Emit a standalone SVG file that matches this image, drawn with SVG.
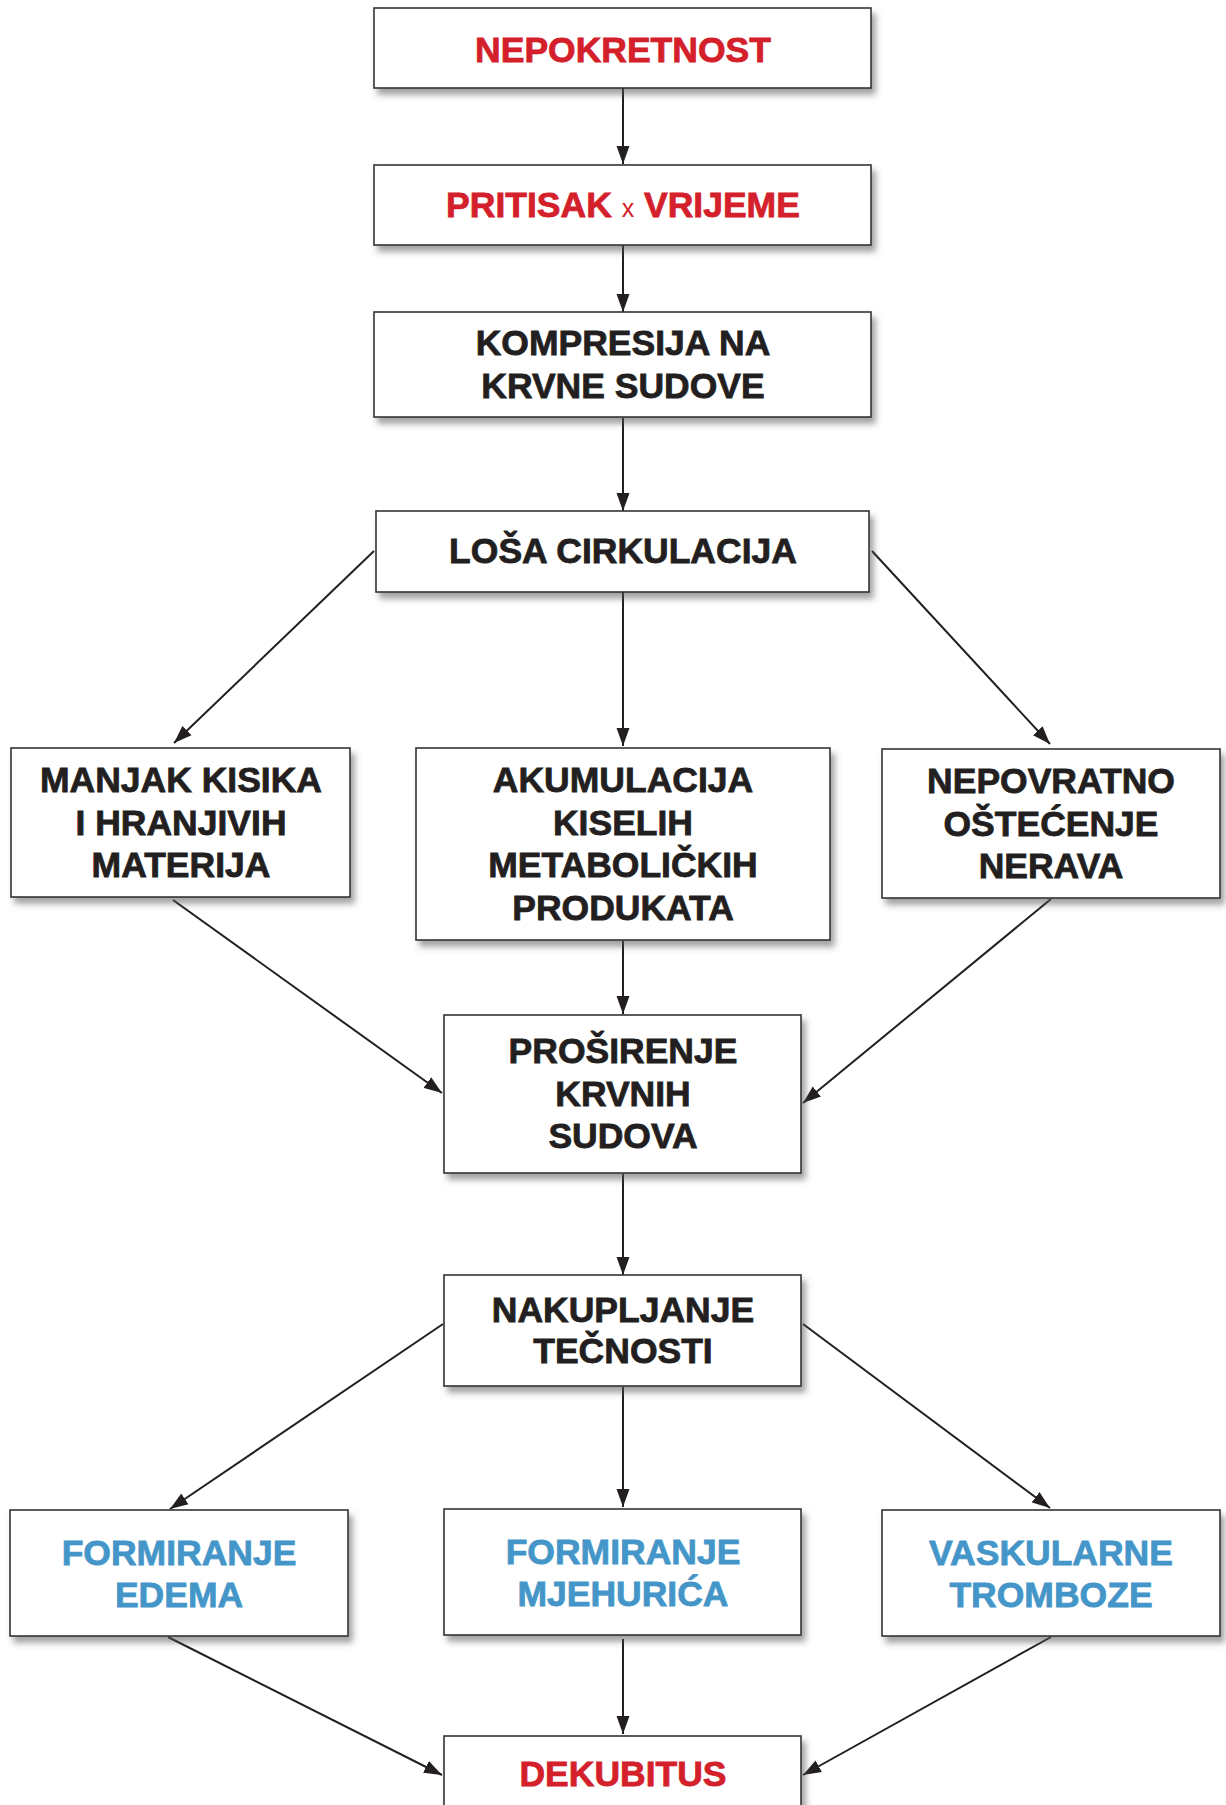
<svg xmlns="http://www.w3.org/2000/svg" width="1226" height="1805" viewBox="0 0 1226 1805">
<defs>
<filter id="sh" x="-10%" y="-10%" width="130%" height="140%">
<feDropShadow dx="4" dy="6" stdDeviation="3" flood-color="#555" flood-opacity="0.55"/>
</filter>
<marker id="ah" markerUnits="userSpaceOnUse" markerWidth="18" markerHeight="14" refX="18" refY="7" orient="auto">
<path d="M0,0.5 L18,7 L0,13.5 z" fill="#231f20"/>
</marker>
</defs>
<style>
.box{fill:#fff;stroke:#333;stroke-width:1.6;filter:url(#sh)}
.t{font-family:"Liberation Sans",Arial,sans-serif;font-weight:bold;font-size:35.5px;text-anchor:middle;fill:#231f20;stroke:#231f20;stroke-width:0.8}
.red{fill:#d4202a;stroke:#d4202a}
.blue{fill:#4596c8;stroke:#4596c8}
.x{font-weight:normal;font-size:25px;stroke-width:0}
.c line{stroke:#231f20;stroke-width:2;marker-end:url(#ah)}
</style>
<rect width="1226" height="1805" fill="#fff"/>
<g class="c" id="connectors">
<line x1="623" y1="88" x2="623" y2="164"/>
<line x1="623" y1="245" x2="623" y2="312"/>
<line x1="623" y1="418" x2="623" y2="511"/>
<line x1="374" y1="551" x2="174" y2="743"/>
<line x1="623" y1="592" x2="623" y2="746"/>
<line x1="872" y1="551" x2="1050" y2="744"/>
<line x1="173" y1="900" x2="442" y2="1093"/>
<line x1="623" y1="941" x2="623" y2="1014"/>
<line x1="1051" y1="899" x2="803" y2="1103"/>
<line x1="623" y1="1174" x2="623" y2="1275"/>
<line x1="443" y1="1324" x2="170" y2="1509"/>
<line x1="623" y1="1387" x2="623" y2="1507"/>
<line x1="803" y1="1324" x2="1050" y2="1508"/>
<line x1="168" y1="1637" x2="442" y2="1775"/>
<line x1="623" y1="1639" x2="623" y2="1734"/>
<line x1="1051" y1="1637" x2="803" y2="1775"/>
</g>
<g id="n1"><rect class="box" x="374" y="8" width="497" height="80"/><text class="t red" x="623" y="62">NEPOKRETNOST</text></g>
<g id="n2"><rect class="box" x="374" y="165" width="497" height="80"/><text class="t red" x="623" y="217">PRITISAK <tspan class="x">x</tspan> VRIJEME</text></g>
<g id="n3"><rect class="box" x="374" y="312" width="497" height="105"/><text class="t" x="623" y="355">KOMPRESIJA NA</text><text class="t" x="623" y="398">KRVNE SUDOVE</text></g>
<g id="n4"><rect class="box" x="376" y="511" width="493" height="81"/><text class="t" x="623" y="563">LOŠA CIRKULACIJA</text></g>
<g id="n5"><rect class="box" x="11" y="748" width="339" height="149"/><text class="t" x="181" y="792">MANJAK KISIKA</text><text class="t" x="181" y="835">I HRANJIVIH</text><text class="t" x="181" y="877">MATERIJA</text></g>
<g id="n6"><rect class="box" x="416" y="748" width="414" height="192"/><text class="t" x="623" y="792">AKUMULACIJA</text><text class="t" x="623" y="835">KISELIH</text><text class="t" x="623" y="877">METABOLIČKIH</text><text class="t" x="623" y="920">PRODUKATA</text></g>
<g id="n7"><rect class="box" x="882" y="749" width="338" height="149"/><text class="t" x="1051" y="793">NEPOVRATNO</text><text class="t" x="1051" y="836">OŠTEĆENJE</text><text class="t" x="1051" y="878">NERAVA</text></g>
<g id="n8"><rect class="box" x="444" y="1015" width="357" height="158"/><text class="t" x="623" y="1063">PROŠIRENJE</text><text class="t" x="623" y="1106">KRVNIH</text><text class="t" x="623" y="1148">SUDOVA</text></g>
<g id="n9"><rect class="box" x="444" y="1275" width="357" height="111"/><text class="t" x="623" y="1322">NAKUPLJANJE</text><text class="t" x="623" y="1363">TEČNOSTI</text></g>
<g id="n10"><rect class="box" x="10" y="1510" width="338" height="126"/><text class="t blue" x="179" y="1565">FORMIRANJE</text><text class="t blue" x="179" y="1607">EDEMA</text></g>
<g id="n11"><rect class="box" x="444" y="1509" width="357" height="126"/><text class="t blue" x="623" y="1564">FORMIRANJE</text><text class="t blue" x="623" y="1606">MJEHURIĆA</text></g>
<g id="n12"><rect class="box" x="882" y="1510" width="338" height="126"/><text class="t blue" x="1051" y="1565">VASKULARNE</text><text class="t blue" x="1051" y="1607">TROMBOZE</text></g>
<g id="n13"><rect class="box" x="444" y="1736" width="357" height="100"/><text class="t red" x="623" y="1786">DEKUBITUS</text></g>
</svg>
